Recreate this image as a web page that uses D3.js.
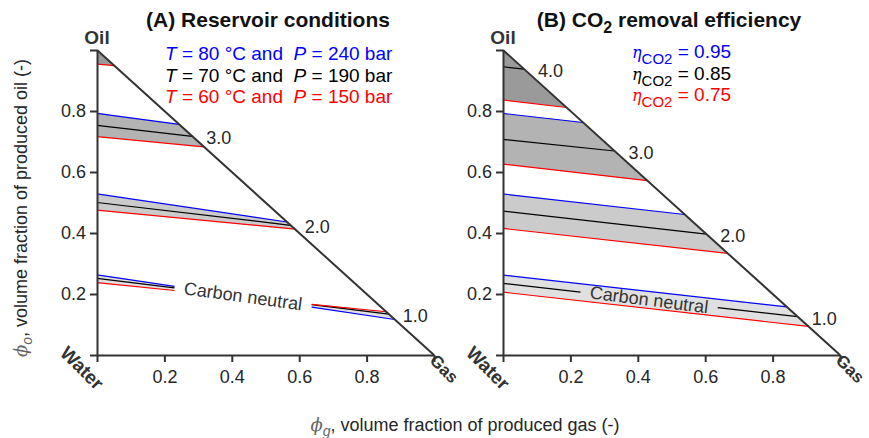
<!DOCTYPE html>
<html><head><meta charset="utf-8">
<script src="https://cdn.jsdelivr.net/npm/d3@7"></script>
<style>
body{margin:0;background:#fff}
text{font-family:"Liberation Sans",Arial,Helvetica,sans-serif;white-space:pre}
</style></head>
<body>
<svg id="c" width="869" height="438"></svg>
<script>
// ---- data ----
const contourValues = ["1.0", "2.0", "3.0", "4.0"];
const ticks = [0, 0.2, 0.4, 0.6, 0.8, 1.0];
// Panel A (reservoir conditions): phi_o at phi_g = 0 and slope d(phi_o)/d(phi_g)
const aBlueStart  = [0.263, 0.528, 0.792, 1.040];
const aBlueSlope  = [-0.166, -0.163, -0.146, -0.140];
const aBlackStart = [0.251, 0.500, 0.753, 0.995];
const aBlackSlope = [-0.135, -0.130, -0.127, -0.120];
const aRedStart   = [0.237, 0.475, 0.716, 0.954];
const aRedSlope   = [-0.111, -0.106, -0.105, -0.100];
const aLabels     = ["1.0", "2.0", "3.0", null];
// Panel B (CO2 removal efficiency)
const bBlueStart  = [0.262, 0.528, 0.792, 1.060];
const bBlueSlope  = [-0.124, -0.125, -0.125, -0.125];
const bBlackStart = [0.235, 0.472, 0.707, 0.945];
const bBlackSlope = [-0.125, -0.125, -0.115, -0.120];
const bRedStart   = [0.206, 0.415, 0.626, 0.836];
const bRedSlope   = [-0.124, -0.123, -0.127, -0.130];
const bLabels     = ["1.0", "2.0", "3.0", "4.0"];
const neutralGap  = [0.23, 0.637];   // phi_g range of the "Carbon neutral" label
const bandFills   = ["#e0e0e0", "#cbcbcb", "#b3b3b3", "#9a9a9a"];
const legendA = [["80", "240"], ["70", "190"], ["60", "150"]];
const legendB = ["0.95", "0.85", "0.75"];
const legendColors = ["#0000ff", "#000000", "#ff0000"];

// ---- layout ----
const svg = d3.select("#c");
const y = d3.scaleLinear().domain([0, 1]).range([355, 50]);
const axisCol = "#333";

function panel(id, x0, cfg) {
  const x = d3.scaleLinear().domain([0, 1]).range([x0, x0 + 337]);
  const g = svg.append("g");
  const clipId = "clip" + id;
  svg.append("clipPath").attr("id", clipId).append("path")
    .attr("d", `M${x(0)},${y(0)}L${x(0)},${y(1)}L${x(1)},${y(0)}Z`);
  const lineVal = (a, b, v) => a + b * v;
  const endX = (a, b) => (1 - a) / (1 + b);

  // bands
  const fg = g.append("g").attr("clip-path", `url(#${clipId})`);
  cfg.blueStart.forEach((a, i) => {
    const ranges = (i === 0 && cfg.breakAll) ? [[0, neutralGap[0]], [neutralGap[1], 1]] : [[0, 1]];
    ranges.forEach(([s, e]) => {
      const pts = [
        [x(s), y(lineVal(a, cfg.blueSlope[i], s))],
        [x(e), y(lineVal(a, cfg.blueSlope[i], e))],
        [x(e), y(lineVal(cfg.redStart[i], cfg.redSlope[i], e))],
        [x(s), y(lineVal(cfg.redStart[i], cfg.redSlope[i], s))]
      ];
      fg.append("path").attr("d", "M" + pts.join("L") + "Z").attr("fill", bandFills[i]);
    });
  });
  // lines
  const sets = [
    [cfg.blueStart, cfg.blueSlope, "#0000ff", cfg.breakAll],
    [cfg.blackStart, cfg.blackSlope, "#000000", true],
    [cfg.redStart, cfg.redSlope, "#ff0000", cfg.breakAll]
  ];
  sets.forEach(([starts, slopes, col, brk]) => {
    starts.forEach((a, i) => {
      const xe = endX(a, slopes[i]);
      if (xe <= 0) return;
      const segs = (i === 0 && brk) ? [[0, neutralGap[0]], [neutralGap[1], xe]] : [[0, xe]];
      segs.forEach(([s, e]) => {
        g.append("line")
          .attr("x1", x(s)).attr("y1", y(lineVal(a, slopes[i], s)))
          .attr("x2", x(e)).attr("y2", y(lineVal(a, slopes[i], e)))
          .attr("stroke", col).attr("stroke-width", 1.2);
      });
    });
  });
  // contour labels
  cfg.labels.forEach((lab, i) => {
    if (!lab) return;
    const a = cfg.blackStart[i], b = cfg.blackSlope[i];
    const xe = endX(a, b);
    g.append("text").attr("x", x(xe) + 14).attr("y", y(1 - xe) + 8)
      .attr("font-size", 18).attr("fill", "#262626").text(lab);
  });
  // carbon neutral label
  const gm = (neutralGap[0] + neutralGap[1]) / 2;
  const a0 = cfg.blackStart[0], b0 = cfg.blackSlope[0];
  const ang = Math.atan2(y(lineVal(a0, b0, 1)) - y(a0), x(1) - x(0)) * 180 / Math.PI + 0.8;
  g.append("text")
    .attr("transform", `translate(${x(gm)},${y(lineVal(a0, b0, gm))}) rotate(${ang})`)
    .attr("text-anchor", "middle").attr("dominant-baseline", "central")
    .attr("font-size", 18).attr("fill", "#333").text("Carbon neutral");

  // hypotenuse
  g.append("line").attr("x1", x(0)).attr("y1", y(1)).attr("x2", x(1)).attr("y2", y(0))
    .attr("stroke", axisCol).attr("stroke-width", 2);

  // axes
  const fmt = d => (d > 0 && d < 1) ? d3.format(".1f")(d) : "";
  const ya = g.append("g").attr("transform", `translate(${x(0)},0)`)
    .call(d3.axisLeft(y).tickValues(ticks).tickFormat(fmt).tickSize(7).tickSizeOuter(0).tickPadding(4));
  const xa = g.append("g").attr("transform", `translate(0,${y(0)})`)
    .call(d3.axisBottom(x).tickValues(ticks).tickFormat(fmt).tickSize(7).tickSizeOuter(0).tickPadding(8));
  [ya, xa].forEach(ax => {
    ax.select(".domain").attr("stroke", axisCol).attr("stroke-width", 2);
    ax.selectAll(".tick line").attr("stroke", axisCol).attr("stroke-width", 2);
    ax.selectAll(".tick text").attr("font-size", 18).attr("fill", "#262626")
      .attr("font-family", '"Liberation Sans",Arial,sans-serif');
  });

  // corner labels
  g.append("text").attr("x", x(0)).attr("y", 44).attr("text-anchor", "middle")
    .attr("font-size", 19).attr("font-weight", "bold").attr("fill", "#333").text("Oil");
  g.append("text").attr("transform", `translate(${x(0) - 15},${y(0) + 13}) rotate(45)`)
    .attr("text-anchor", "middle").attr("dominant-baseline", "central")
    .attr("font-size", 19).attr("font-weight", "bold").attr("fill", "#333").text("Water");
  g.append("text").attr("transform", `translate(${x(1) + 10},${y(0) + 14}) rotate(45)`)
    .attr("text-anchor", "middle").attr("dominant-baseline", "central")
    .attr("font-size", 17).attr("font-weight", "bold").attr("fill", "#333").text("Gas");
  return x;
}

const xA = panel("A", 97, {
  blueStart: aBlueStart, blueSlope: aBlueSlope, blackStart: aBlackStart, blackSlope: aBlackSlope,
  redStart: aRedStart, redSlope: aRedSlope, labels: aLabels, breakAll: true
});
const xB = panel("B", 503, {
  blueStart: bBlueStart, blueSlope: bBlueSlope, blackStart: bBlackStart, blackSlope: bBlackSlope,
  redStart: bRedStart, redSlope: bRedSlope, labels: bLabels, breakAll: false
});

// titles
svg.append("text").attr("x", 268).attr("y", 27).attr("text-anchor", "middle")
  .attr("font-size", 21).attr("font-weight", "bold").attr("fill", "#111").text("(A) Reservoir conditions");
const tB = svg.append("text").attr("x", 669).attr("y", 27).attr("text-anchor", "middle")
  .attr("font-size", 21).attr("font-weight", "bold").attr("fill", "#111");
tB.append("tspan").text("(B) CO");
tB.append("tspan").attr("font-size", 16).attr("dy", 6).text("2");
tB.append("tspan").attr("dy", -6).text(" removal efficiency");

// legend A
legendA.forEach((d, i) => {
  const t = svg.append("text").attr("x", 165).attr("y", 60 + i * 21.5)
    .attr("font-size", 19).attr("fill", legendColors[i]);
  t.append("tspan").attr("font-style", "italic").text("T");
  t.append("tspan").text(` = ${d[0]} °C and  `);
  t.append("tspan").attr("font-style", "italic").text("P");
  t.append("tspan").text(` = ${d[1]} bar`);
});
// legend B
legendB.forEach((d, i) => {
  const t = svg.append("text").attr("x", 632).attr("y", 58 + i * 21.5)
    .attr("font-size", 19).attr("fill", legendColors[i]);
  t.append("tspan").attr("font-style", "italic").attr("font-family", '"DejaVu Serif",serif').attr("font-size", 16).text("η");
  t.append("tspan").attr("font-size", 15).attr("dy", 6).text("CO2");
  t.append("tspan").attr("dy", -6).text(" = " + d);
});

// axis titles
const yl = svg.append("text").attr("transform", "translate(27,208) rotate(-90)")
  .attr("text-anchor", "middle").attr("font-size", 18).attr("fill", "#262626");
yl.append("tspan").attr("font-style", "italic").attr("font-family", '"DejaVu Serif",serif').attr("fill", "#666").text("ϕ");
yl.append("tspan").attr("font-style", "italic").attr("font-size", 14).attr("dy", 5).attr("fill", "#666").text("o");
yl.append("tspan").attr("dy", -5).text(", volume fraction of produced oil (-)");

const xl = svg.append("text").attr("x", 465).attr("y", 431)
  .attr("text-anchor", "middle").attr("font-size", 18).attr("fill", "#262626");
xl.append("tspan").attr("font-style", "italic").attr("font-family", '"DejaVu Serif",serif').attr("fill", "#666").text("ϕ");
xl.append("tspan").attr("font-style", "italic").attr("font-size", 14).attr("dy", 5).attr("fill", "#666").text("g");
xl.append("tspan").attr("dy", -5).text(", volume fraction of produced gas (-)");
</script>
</body></html>
